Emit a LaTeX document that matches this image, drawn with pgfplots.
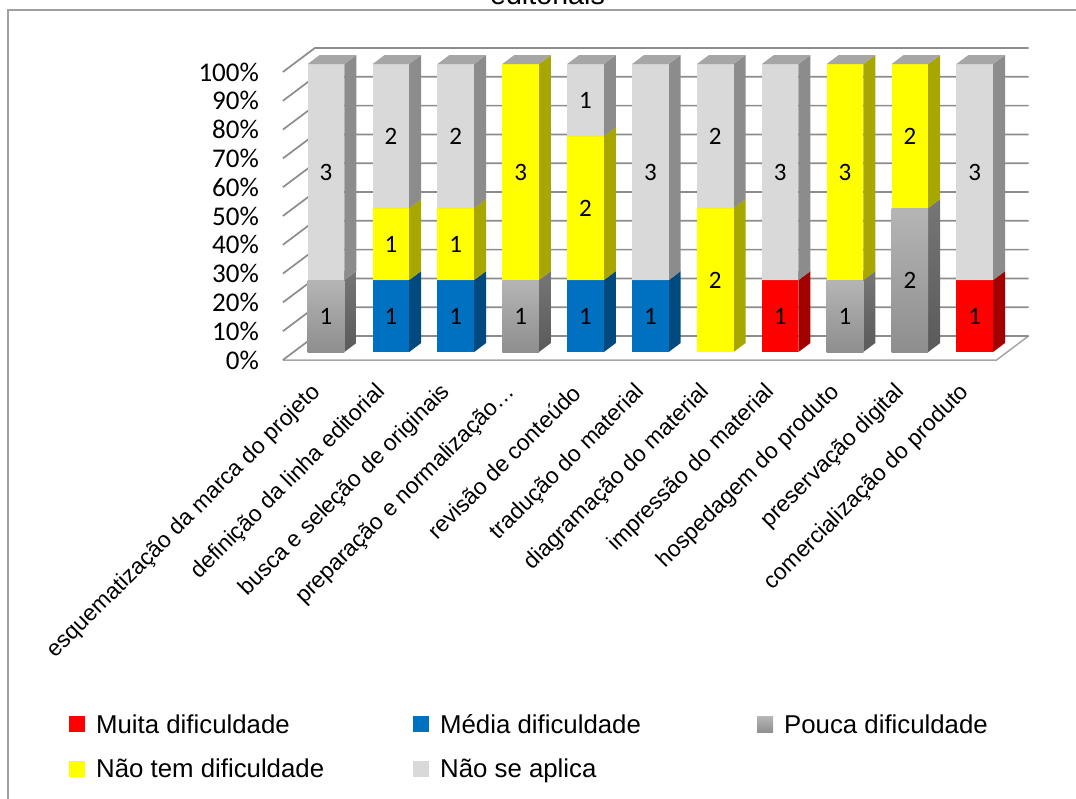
\documentclass[border=0pt]{standalone}
\usepackage{pgfplots}
\usepackage{pgfplotstable}
\pgfplotsset{compat=1.18}
\usepackage{fontspec}
\setmainfont{Liberation Sans}
\newfontfamily\carlito{Carlito}

\definecolor{cRed}{HTML}{FF0000}
\definecolor{cRedS}{HTML}{A30000}
\definecolor{cBlue}{HTML}{0070C0}
\definecolor{cBlueS}{HTML}{004A80}
\definecolor{cPT}{HTML}{B5B5B5}
\definecolor{cPB}{HTML}{8E8E8E}
\definecolor{cPST}{HTML}{767676}
\definecolor{cPSB}{HTML}{5A5A5A}
\definecolor{cYel}{HTML}{FFFF00}
\definecolor{cYelS}{HTML}{A8A600}
\definecolor{cNSA}{HTML}{D9D9D9}
\definecolor{cNSAS}{HTML}{8C8C8C}
\definecolor{cTop}{HTML}{A6A6A6}
\definecolor{cGrid}{HTML}{8C8C8C}
\definecolor{cFloor}{HTML}{A6A6A6}
\definecolor{cFrame}{HTML}{A0A0A0}

% columns: x = category index, hi = top of segment (%), one table per series and segment size (count)
\pgfplotstableread{
x hi
7 25
10 25
}\tMuitaA
\pgfplotstableread{
x hi
1 25
2 25
4 25
5 25
}\tMediaA
\pgfplotstableread{
x hi
0 25
3 25
8 25
}\tPoucaA
\pgfplotstableread{
x hi
9 50
}\tPoucaB
\pgfplotstableread{
x hi
1 50
2 50
}\tNaoTemA
\pgfplotstableread{
x hi
4 75
6 50
9 100
}\tNaoTemB
\pgfplotstableread{
x hi
3 100
8 100
}\tNaoTemC
\pgfplotstableread{
x hi
4 100
}\tNSAA
\pgfplotstableread{
x hi
1 100
2 100
6 100
}\tNSAB
\pgfplotstableread{
x hi
0 100
5 100
7 100
10 100
}\tNSAC

\pgfdeclareplotmark{emptymark}{}
% #1 front options, #2 side options, #3 height in pt, #4 half height, #5 label
\newcommand\drawseg[5]{%
  \path[draw=none, #2] (18.3pt,-#3) -- ++(12pt,9pt) -- (30.3pt,9pt) -- (18.3pt,0pt) -- cycle;
  \path[draw=none, #1] (-18.3pt,-#3) rectangle (18.3pt,0pt);
  \path[draw=none, fill=cTop] (-18.3pt,0pt) -- (18.3pt,0pt) -- (30.3pt,9pt) -- (-6.3pt,9pt) -- cycle;
  \node[font=\carlito\fontsize{25}{26}\selectfont, text=black, inner sep=0pt] at (0pt,-#4) {#5};
}
\pgfplotsset{
  bar3d/.style n args={5}{
    scatter, only marks, mark=emptymark,
    scatter/@pre marker code/.code={\drawseg{#1}{#2}{#3}{#4}{#5}},
    scatter/@post marker code/.code={},
    legend image code/.code={\path[draw=none, #1] (0pt,-8pt) rectangle (16pt,8pt);},
  },
}

\begin{document}
\begin{tikzpicture}
\path[use as bounding box] (-293.6pt,-446pt) rectangle (782.4pt,352pt);
\draw[cFrame, line width=1.3pt] (-285.6pt,-470pt) -- (-285.6pt,342pt) -- (800pt,342pt);
\node[anchor=base, font=\fontsize{28.7}{30}\selectfont] at (253.9pt,347pt) {editoriais};
\begin{axis}[
  at={(0pt,0pt)}, anchor=south west,
  scale only axis, width=713.6pt, height=288pt,
  xmin=-0.5, xmax=10.5, ymin=0, ymax=100, clip=false,
  axis line style={draw=none}, major tick length=0pt,
  xtick={0,1,2,3,4,5,6,7,8,9,10},
  xticklabels={esquematização da marca do projeto, definição da linha editorial, busca e seleção de originais, preparação e normalização…, revisão de conteúdo, tradução do material, diagramação do material, impressão do material, hospedagem do produto, preservação digital, comercialização do produto},
  xticklabel style={xshift=-9pt, yshift=-37pt, rotate=45, anchor=east, inner sep=0pt, font=\fontsize{22.8}{24}\selectfont},
  ytick={0,10,20,30,40,50,60,70,80,90,100},
  yticklabel={\pgfmathprintnumber{\tick}\%},
  /pgf/number format/assume math mode=true,
  yticklabel style={xshift=-34.5pt, yshift=-8pt, anchor=east, inner sep=0pt, font=\carlito\fontsize{27}{28}\selectfont},
  legend columns=3,
  legend style={draw=none, fill=none, at={(axis description cs:-0.319,-1.243)}, anchor=north west,
    font=\fontsize{25.8}{28}\selectfont, row sep=20pt, cells={anchor=west}},
]
% floor
\fill[white] ([shift={(-10.7pt,-8pt)}]axis cs:-0.5,0) -- ([shift={(-10.7pt,-8pt)}]axis cs:10.5,0)
  -- ([shift={(21.3pt,16pt)}]axis cs:10.5,0) -- ([shift={(21.3pt,16pt)}]axis cs:-0.5,0) -- cycle;
\draw[cFloor, line width=1.5pt] ([shift={(-10.7pt,-8pt)}]axis cs:-0.5,0) -- ([shift={(-10.7pt,-8pt)}]axis cs:10.5,0)
  -- ([shift={(21.3pt,16pt)}]axis cs:10.5,0);
% side and back walls
\pgfplotsinvokeforeach{0,10,20,30,40,50,60,70,80,90,100}{
  \draw[cGrid, line width=1.7pt] ([shift={(-10.7pt,-8pt)}]axis cs:-0.5,#1) -- ([shift={(21.3pt,16pt)}]axis cs:-0.5,#1)
    -- ([shift={(21.3pt,16pt)}]axis cs:10.5,#1);
}
\addplot[bar3d={fill=cRed}{fill=cRedS}{72pt}{36pt}{1}] table[x=x, y=hi] {\tMuitaA};
\addlegendentry{\hspace{9pt}\makebox[315pt][l]{Muita dificuldade}}
\addplot[bar3d={fill=cBlue}{fill=cBlueS}{72pt}{36pt}{1}] table[x=x, y=hi] {\tMediaA};
\addlegendentry{\hspace{9pt}\makebox[315pt][l]{Média dificuldade}}
\addplot[bar3d={top color=cPT, bottom color=cPB}{top color=cPST, bottom color=cPSB}{72pt}{36pt}{1}] table[x=x, y=hi] {\tPoucaA};
\addlegendentry{\hspace{9pt}\makebox[315pt][l]{Pouca dificuldade}}
\addplot[forget plot, bar3d={top color=cPT, bottom color=cPB}{top color=cPST, bottom color=cPSB}{144pt}{72pt}{2}] table[x=x, y=hi] {\tPoucaB};
\addplot[bar3d={fill=cYel}{fill=cYelS}{72pt}{36pt}{1}] table[x=x, y=hi] {\tNaoTemA};
\addlegendentry{\hspace{9pt}\makebox[315pt][l]{Não tem dificuldade}}
\addplot[forget plot, bar3d={fill=cYel}{fill=cYelS}{144pt}{72pt}{2}] table[x=x, y=hi] {\tNaoTemB};
\addplot[forget plot, bar3d={fill=cYel}{fill=cYelS}{216pt}{108pt}{3}] table[x=x, y=hi] {\tNaoTemC};
\addplot[bar3d={fill=cNSA}{fill=cNSAS}{72pt}{36pt}{1}] table[x=x, y=hi] {\tNSAA};
\addlegendentry{\hspace{9pt}\makebox[315pt][l]{Não se aplica}}
\addplot[forget plot, bar3d={fill=cNSA}{fill=cNSAS}{144pt}{72pt}{2}] table[x=x, y=hi] {\tNSAB};
\addplot[forget plot, bar3d={fill=cNSA}{fill=cNSAS}{216pt}{108pt}{3}] table[x=x, y=hi] {\tNSAC};
\end{axis}
\end{tikzpicture}
\end{document}
